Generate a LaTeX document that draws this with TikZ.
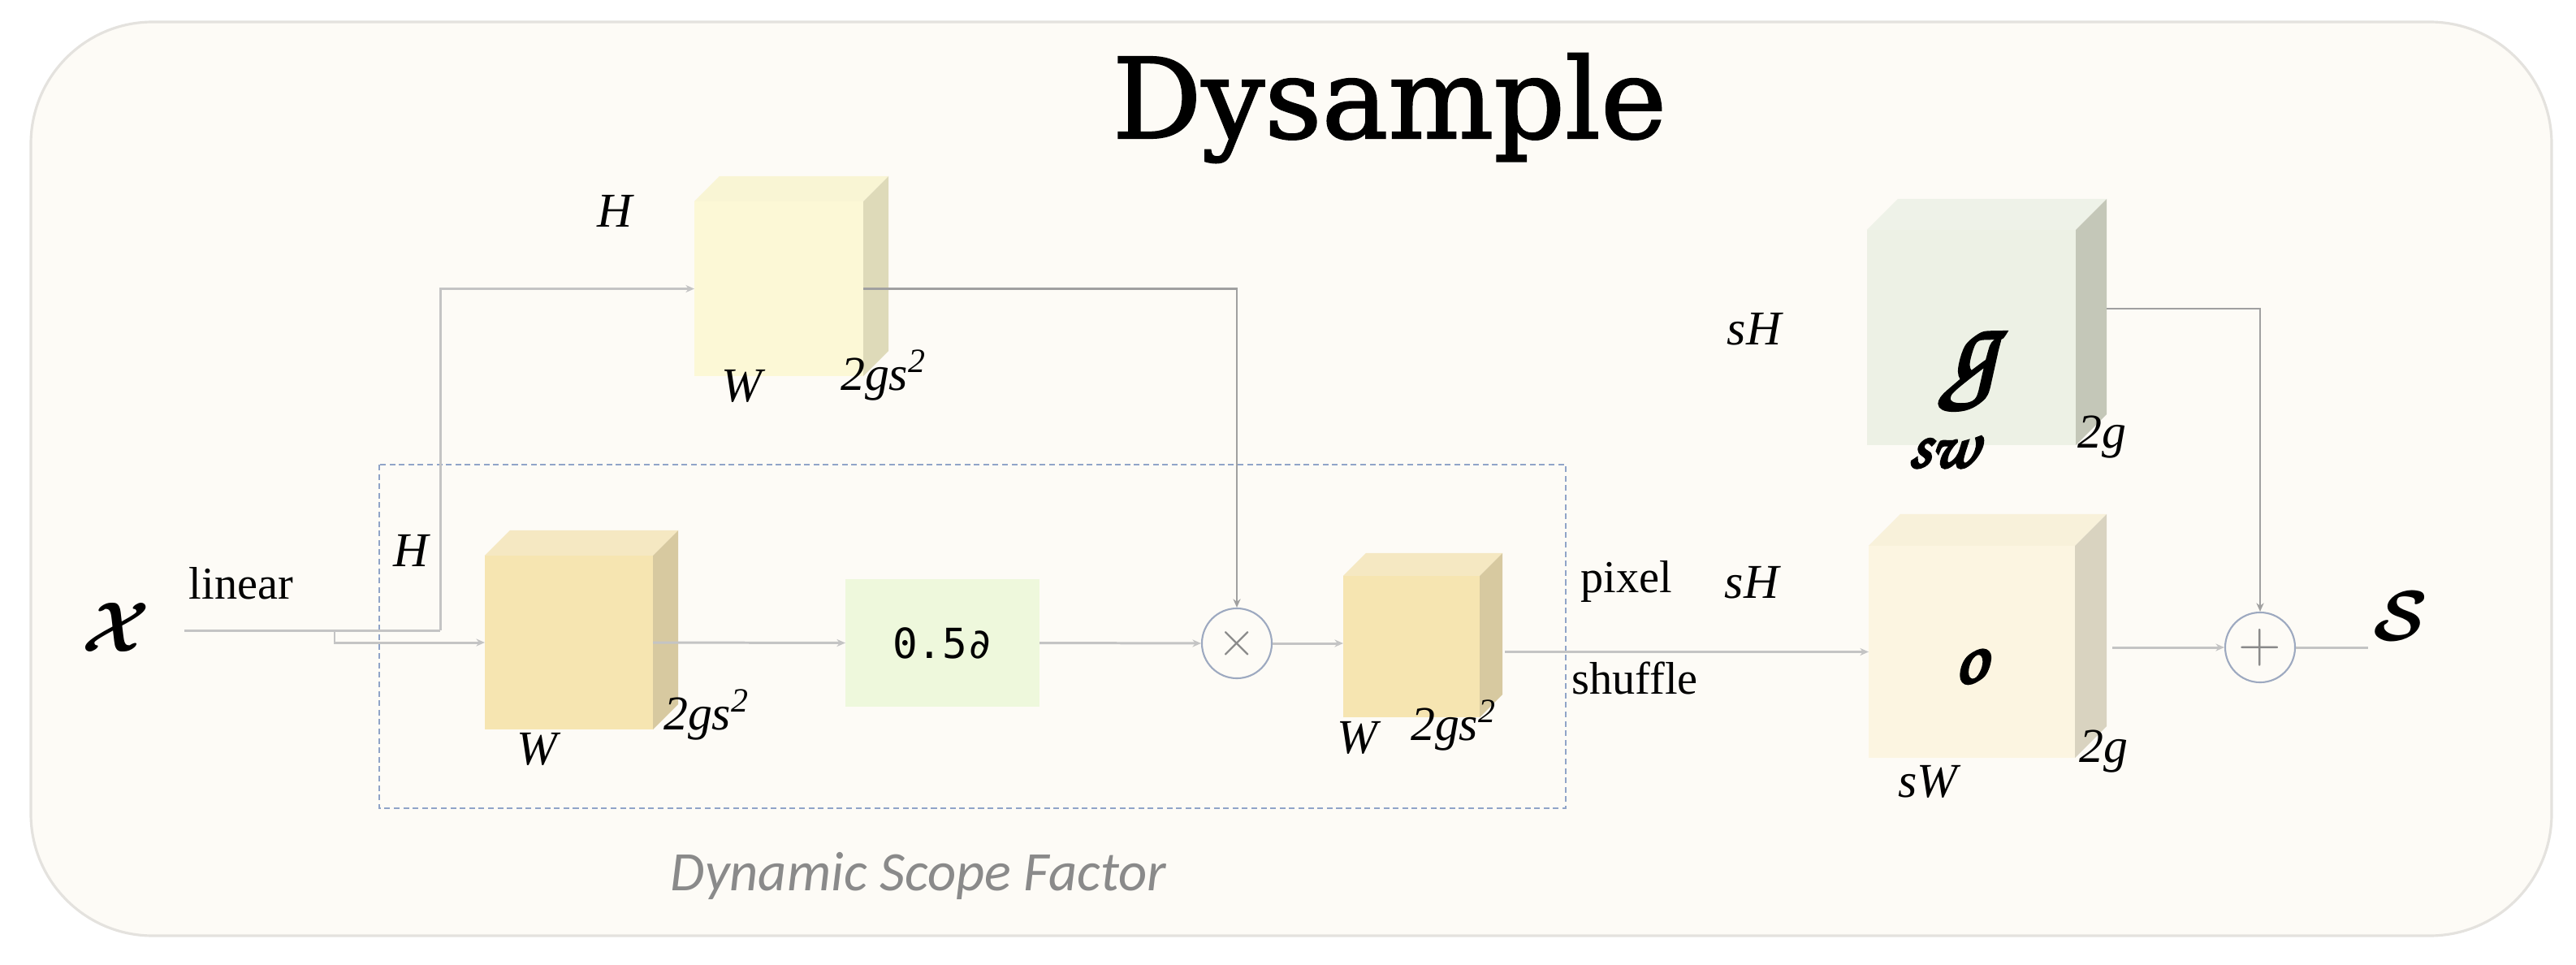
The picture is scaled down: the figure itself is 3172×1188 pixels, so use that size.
\documentclass[tikz,border=0pt]{standalone}
\usepackage[T1]{fontenc}
\usepackage{fontspec}
\usepackage{amsmath}
\usepackage{bm}
\usetikzlibrary{calc,arrows.meta}
\newfontfamily\tnr{Liberation Serif}
\newfontfamily\djs{DejaVu Serif}
\newfontfamily\carl{Carlito}
\newfontfamily\dmono{DejaVu Sans Mono}
\newcommand\chancery{\fontencoding{T1}\fontfamily{pzc}\fontseries{mb}\fontshape{it}}
\newcommand\heavytext[2][0.9]{\special{pdf:literal direct 2 Tr #1 w}#2\special{pdf:literal direct 0 Tr}}
\definecolor{bgF}{HTML}{FDFBF6}
\definecolor{bgD}{HTML}{E4E2DE}
\definecolor{uF}{HTML}{FCF8D6}
\definecolor{uT}{HTML}{F9F5D4}
\definecolor{uS}{HTML}{DEDAB9}
\definecolor{yF}{HTML}{F6E5B1}
\definecolor{yT}{HTML}{F5E8C2}
\definecolor{yS}{HTML}{D7C9A0}
\definecolor{gF}{HTML}{EDF1E5}
\definecolor{gT}{HTML}{EEF2E8}
\definecolor{gS}{HTML}{C4C7B8}
\definecolor{cF}{HTML}{FCF5E1}
\definecolor{cT}{HTML}{F8F1DA}
\definecolor{cS}{HTML}{D9D3C0}
\definecolor{bG}{HTML}{EEF8DC}
\definecolor{lineC}{HTML}{C4C4C4}
\definecolor{lineD}{HTML}{A0A0A0}
\definecolor{dashC}{HTML}{90A4C8}
\definecolor{circC}{HTML}{9DA9C0}
\definecolor{dsfC}{HTML}{8A8A8A}
\newcommand\cubefaces[4]{%
  \fill[#3] (#1.north west) -- ($(#1.north west)+(#2,-#2)$) -- ($(#1.north east)+(#2,-#2)$) -- (#1.north east) -- cycle;
  \fill[#4] (#1.north east) -- ($(#1.north east)+(#2,-#2)$) -- ($(#1.south east)+(#2,-#2)$) -- (#1.south east) -- cycle;}
\begin{document}
\begin{tikzpicture}[x=0.01cm,y=-0.01cm,
  front/.style={rectangle,inner sep=0pt,outer sep=0pt},
  lbl/.style={font=\tnr\itshape\fontsize{17}{20}\selectfont,inner sep=0pt},
  txt/.style={font=\tnr\fontsize{16}{19}\selectfont,inner sep=0pt},
  conn/.style={draw=lineC,line width=0.85pt},
  thinconn/.style={draw=lineD,line width=0.6pt},
  arr/.style={-{Stealth[length=3pt,width=2.6pt]}},
  circ/.style={circle,draw=circC,line width=0.6pt,minimum size=0.86cm,inner sep=0pt,text=dsfC},
  dbox/.style={draw=dashC,line width=0.6pt,dash pattern=on 2pt off 1.3pt}]
\useasboundingbox (0,0) rectangle (3172,1188);
% background
\draw[fill=bgF,draw=bgD,line width=0.9pt,rounded corners=1.5cm] (38,27) rectangle (3142,1152);
% title
\node[font=\djs\fontsize{39}{42}\selectfont,anchor=base,inner sep=0pt] (title) at (1711,170) {\heavytext[0.6]{Dysample}};
% dashed scope
\draw[dbox] (467,572) rectangle (1928,995);
\node[font=\carl\itshape\fontsize{19.5}{22}\selectfont,text=dsfC,inner sep=0pt] (dsf) at (1131,1078) {Dynamic Scope Factor};
% cubes
\node[front,fill=uF,minimum width=2.08cm,minimum height=2.15cm] (U) at (959,355.5) {};
\cubefaces{U}{31}{uT}{uS}
\node[front,fill=yF,minimum width=2.07cm,minimum height=2.14cm] (C1) at (700.5,791) {};
\cubefaces{C1}{31}{yT}{yS}
\node[front,fill=yF,minimum width=1.68cm,minimum height=1.74cm] (C2) at (1738,796) {};
\cubefaces{C2}{28}{yT}{yS}
\node[front,fill=gF,minimum width=2.57cm,minimum height=2.65cm] (G) at (2427.5,415.5) {};
\cubefaces{G}{38}{gT}{gS}
\node[front,fill=cF,minimum width=2.54cm,minimum height=2.61cm] (C) at (2428,802.5) {};
\cubefaces{C}{39}{cT}{cS}
% box and operators
\node[front,fill=bG,minimum width=2.39cm,minimum height=1.57cm,font=\dmono\fontsize{14.5}{16}\selectfont] (B) at (1160.5,791.5) {0.5∂};
\node[circ,font=\fontsize{18}{18}\selectfont] (T) at (1523,792) {$\times$};
\node[circ,font=\fontsize{20}{20}\selectfont] (P) at (2783,797) {$+$};
% input / output symbols
\node[font=\fontsize{27}{30}\selectfont,inner sep=0pt] (X) at (143,772) {$\bm{\mathcal{X}}$};
\node[font=\fontsize{36}{38}\selectfont,inner sep=0pt] (S) at (2956,758) {$\bm{\mathcal{S}}$};
% connectors
\coordinate (xin) at (227,776);
\coordinate (split) at (412,776);
\coordinate (up) at (542,776);
\draw[conn] (xin) -- (split) -- (up);
\draw[conn,arr] (up) |- (U.west);
\draw[conn,arr] (split) |- (C1.west);
\draw[conn,arr] (C1.east) -- (B.west);
\draw[conn,arr] (B.east) -- (T.west);
\draw[thinconn,arr] (U.east) -| (T.north);
\draw[conn,arr] (T.east) -- (T.east -| C2.west);
\coordinate (c2out) at (1853,802.5);
\draw[conn,arr] (c2out) -- (C.west);
\coordinate (gout) at (2594,380);
\draw[thinconn,arr] (gout) -| (P.north);
\coordinate (cout) at (2601,797);
\draw[conn,arr] (cout) -- (P.west);
\coordinate (sin) at (2916,797);
\draw[conn] (P.east) -- (sin);
% labels
\node[txt] (lin) at (297,718) {linear};
\node[txt] (pix) at (2003,716) {pixel};
\node[txt] (shf) at (2013,835) {shuffle};
\node[lbl] (uH) at (757,260) {H};
\node[lbl] (uW) at (913,475) {W};
\node[lbl] (u2) at (1088,462) {2gs\textsuperscript{2}};
\node[lbl] (aH) at (506,678) {H};
\node[lbl] (aW) at (661,922) {W};
\node[lbl] (a2) at (870,880) {2gs\textsuperscript{2}};
\node[lbl] (bW) at (1671,908) {W};
\node[lbl] (b2) at (1790,893) {2gs\textsuperscript{2}};
\node[lbl] (gH) at (2160,405) {sH};
\node[lbl,font=\chancery\fontsize{24}{26}\selectfont] (gW) at (2393,555) {\heavytext{sw}};
\node[lbl] (g2) at (2588,538) {2g};
\node[lbl,font=\chancery\fontsize{42}{44}\selectfont] (gg) at (2429,460) {\heavytext{g}};
\node[lbl] (cH) at (2157,717) {sH};
\node[lbl] (cW) at (2374,962) {sW};
\node[lbl] (c2) at (2590,925) {2g};
\node[lbl,font=\chancery\fontsize{28}{30}\selectfont] (co) at (2426,820) {\heavytext{o}};
\end{tikzpicture}
\end{document}
